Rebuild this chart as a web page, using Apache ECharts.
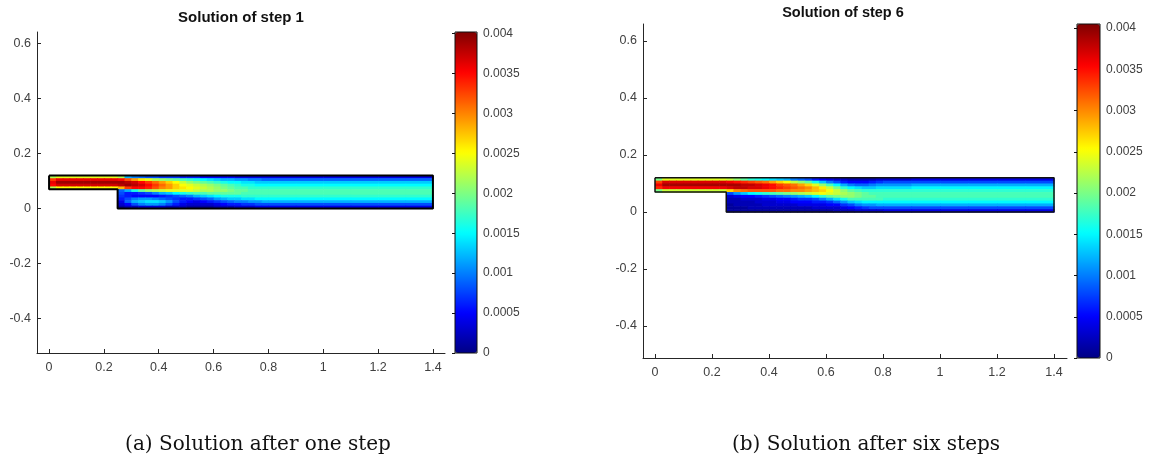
<!DOCTYPE html>
<html><head><meta charset="utf-8">
<script src="https://cdn.jsdelivr.net/npm/echarts@6/dist/echarts.min.js"></script>
<style>html,body{margin:0;padding:0;background:#fff}#c{width:1151px;height:458px}</style>
</head><body><div id="c"></div>
<script>
// ---- geometry / grid of the solution field ----
const xEdges = [0, 0.025, 0.05, 0.075, 0.1, 0.125, 0.15, 0.175, 0.2, 0.225, 0.25, 0.275, 0.3, 0.325, 0.35, 0.375, 0.4, 0.425, 0.45, 0.475, 0.5, 0.525, 0.55, 0.575, 0.6, 0.625, 0.65, 0.675, 0.7, 0.725, 0.75, 0.775, 0.8, 0.9, 1.0, 1.1, 1.2, 1.3, 1.4];
const yEdges = [0.12, 0.11, 0.10, 0.09, 0.08, 0.07, 0.06, 0.05, 0.04, 0.03, 0.02, 0.01, 0];
const outlineX = [0, 1.4, 1.4, 0.25, 0.25, 0, 0];
const outlineY = [0.12, 0.12, 0, 0, 0.07, 0.07, 0.12];
const xTicks = [0, 0.2, 0.4, 0.6, 0.8, 1, 1.2, 1.4];
const yTicks = [-0.4, -0.2, 0, 0.2, 0.4, 0.6];
const colorTicks = [0, 0.0005, 0.001, 0.0015, 0.002, 0.0025, 0.003, 0.0035, 0.004];
const colorLimits = [[0, 0.00402], [0, 0.00405]];
const titles = ['Solution of step 1', 'Solution of step 6'];
const captions = ['(a) Solution after one step', '(b) Solution after six steps'];
const N = null;

// ---- step 1 field (rows top y=0.12 -> bottom y=0) ----
const step1Rows = [
 [.0022,.0024,.0024,.0024,.0024,.0024,.0024,.0024,.0024,.0024, .0022, .0012,.0010,.0009,.0008,.0008,.0007,.0007,.0007,.0006,.0006,.0006,.0005,.0005,.0005,.0005,.0005,.0004,.0004,.0004,.0004,.0004, .0004,.0004,.0004,.0004,.0004,.0004],
 [.0033,.0036,.0036,.0036,.0036,.0036,.0036,.0036,.0036,.0036, .0035, .0032,.0029,.0026,.0024,.0022,.0021,.0020,.0019,.0018,.0017,.0016,.0015,.0014,.0013,.0012,.0012,.0011,.0011,.0010,.0010,.0009, .0009,.0009,.0009,.0009,.0009,.0009],
 [.0036,.0039,.0039,.0039,.0039,.0039,.0039,.0039,.0039,.0039, .0039, .0038,.0037,.0035,.0033,.0031,.0029,.0027,.0025,.0023,.0021,.0020,.0019,.0018,.0017,.0016,.0015,.0015,.0014,.0014,.0013,.0013, .0013,.0013,.0013,.0013,.0013,.0013],
 [.0035,.0037,.0037,.0037,.0037,.0037,.0037,.0037,.0037,.0037, .0038, .0039,.0038,.0037,.0035,.0033,.0031,.0029,.0027,.0025,.0024,.0023,.0022,.0021,.0020,.0019,.0018,.0017,.0016,.0016,.0015,.0015, .0015,.0015,.0015,.0015,.0015,.0015],
 [.0022,.0025,.0025,.0025,.0025,.0025,.0025,.0025,.0025,.0025, .0028, .0033,.0035,.0035,.0034,.0032,.0030,.0029,.0027,.0026,.0025,.0024,.0023,.0022,.0021,.0020,.0019,.0018,.0018,.0017,.0017,.0017, .0017,.0017,.0017,.0017,.0017,.0017],
 [N,N,N,N,N,N,N,N,N,N, .0009, .0012,.0016,.0019,.0021,.0022,.0023,.0024,.0024,.0024,.0024,.0023,.0022,.0022,.0021,.0021,.0020,.0019,.0019,.0018,.0018,.0018, .0018,.0018,.0018,.0018,.0018,.0018],
 [N,N,N,N,N,N,N,N,N,N, .0008, .0006,.0006,.0007,.0008,.0010,.0012,.0013,.0015,.0016,.0017,.0018,.0018,.0019,.0019,.0019,.0019,.0019,.0018,.0018,.0018,.0018, .0018,.0018,.0018,.0018,.0018,.0018],
 [N,N,N,N,N,N,N,N,N,N, .0007, .0006,.0005,.0005,.0005,.0005,.0006,.0007,.0008,.0009,.0010,.0012,.0013,.0014,.0015,.0016,.0016,.0016,.0017,.0017,.0017,.0017, .0017,.0017,.0017,.0017,.0017,.0017],
 [N,N,N,N,N,N,N,N,N,N, .0006, .0008,.0010,.0011,.0011,.0010,.0009,.0008,.0007,.0006,.0006,.0007,.0008,.0009,.0011,.0012,.0013,.0013,.0014,.0014,.0015,.0015, .0015,.0015,.0015,.0015,.0015,.0015],
 [N,N,N,N,N,N,N,N,N,N, .0004, .0009,.0012,.0013,.0014,.0014,.0013,.0011,.0008,.0006,.0005,.0004,.0005,.0006,.0007,.0008,.0009,.0010,.0010,.0011,.0011,.0012, .0012,.0012,.0012,.0012,.0012,.0012],
 [N,N,N,N,N,N,N,N,N,N, .0003, .0005,.0008,.0010,.0011,.0011,.0010,.0008,.0006,.0004,.0003,.0003,.0003,.0003,.0004,.0005,.0006,.0006,.0007,.0007,.0008,.0008, .0008,.0008,.0008,.0008,.0008,.0008],
 [N,N,N,N,N,N,N,N,N,N, .0001, .0002,.0002,.0003,.0003,.0003,.0003,.0002,.0002,.0002,.0001,.0001,.0001,.0001,.0002,.0002,.0002,.0003,.0003,.0003,.0004,.0004, .0004,.0004,.0004,.0004,.0004,.0004]
];

// ---- step 6 field ----
const step6Rows = [
 [.0020,.0024,.0024,.0024,.0024,.0024,.0024,.0024,.0024,.0024, .0023,.0021,.0019,.0017,.0016,.0015,.0014,.0013,.0012,.0010,.0009,.0008,.0006,.0005,.0004,.0003,.0003,.0002,.0002,.0002,.0002,.0003,.0003, .0004,.0004,.0004,.0004,.0004],
 [.0033,.0037,.0037,.0037,.0037,.0037,.0037,.0037,.0037,.0037, .0036,.0035,.0034,.0033,.0032,.0031,.0029,.0027,.0025,.0023,.0021,.0019,.0016,.0013,.0010,.0008,.0006,.0005,.0005,.0005,.0006,.0007,.0008, .0008,.0008,.0008,.0008,.0008],
 [.0036,.0039,.0039,.0039,.0039,.0039,.0039,.0039,.0039,.0039, .0039,.0039,.0038,.0038,.0037,.0036,.0035,.0033,.0032,.0031,.0029,.0027,.0024,.0021,.0018,.0015,.0012,.0010,.0009,.0009,.0010,.0011,.0011, .0012,.0012,.0012,.0012,.0012],
 [.0034,.0036,.0036,.0036,.0036,.0036,.0036,.0036,.0036,.0036, .0037,.0038,.0038,.0037,.0037,.0036,.0035,.0034,.0033,.0032,.0031,.0030,.0028,.0026,.0023,.0020,.0017,.0015,.0014,.0013,.0013,.0014,.0014, .0015,.0015,.0015,.0015,.0015],
 [.0020,.0023,.0023,.0023,.0023,.0023,.0023,.0023,.0023,.0023, .0027,.0030,.0031,.0032,.0032,.0032,.0032,.0031,.0031,.0030,.0030,.0029,.0028,.0027,.0025,.0023,.0021,.0019,.0018,.0017,.0017,.0017,.0017, .0017,.0017,.0017,.0017,.0017],
 [N,N,N,N,N,N,N,N,N,N, .0008,.0011,.0013,.0015,.0016,.0017,.0018,.0019,.0020,.0021,.0022,.0023,.0024,.0025,.0024,.0023,.0022,.0021,.0020,.0019,.0018,.0018,.0018, .0018,.0018,.0018,.0018,.0018],
 [N,N,N,N,N,N,N,N,N,N, .0003,.0004,.0005,.0005,.0006,.0007,.0008,.0009,.0010,.0011,.0012,.0013,.0015,.0017,.0019,.0020,.0021,.0021,.0020,.0019,.0019,.0018,.0018, .0018,.0018,.0018,.0018,.0018],
 [N,N,N,N,N,N,N,N,N,N, .0002,.0002,.0003,.0003,.0003,.0004,.0004,.0005,.0005,.0006,.0007,.0007,.0008,.0010,.0012,.0014,.0016,.0018,.0018,.0018,.0018,.0018,.0017, .0017,.0017,.0017,.0017,.0017],
 [N,N,N,N,N,N,N,N,N,N, .0002,.0002,.0002,.0002,.0003,.0003,.0003,.0004,.0004,.0005,.0005,.0005,.0006,.0006,.0007,.0009,.0011,.0013,.0014,.0015,.0015,.0015,.0015, .0015,.0015,.0015,.0015,.0015],
 [N,N,N,N,N,N,N,N,N,N, .0001,.0002,.0002,.0002,.0002,.0003,.0003,.0003,.0003,.0003,.0004,.0004,.0004,.0004,.0005,.0005,.0007,.0008,.0010,.0011,.0011,.0012,.0012, .0012,.0012,.0012,.0012,.0012],
 [N,N,N,N,N,N,N,N,N,N, .0001,.0001,.0001,.0002,.0002,.0002,.0002,.0002,.0002,.0002,.0002,.0002,.0003,.0003,.0003,.0003,.0004,.0005,.0006,.0007,.0008,.0008,.0008, .0008,.0008,.0008,.0008,.0008],
 [N,N,N,N,N,N,N,N,N,N, .0001,.0001,.0001,.0001,.0001,.0001,.0001,.0001,.0001,.0001,.0001,.0001,.0001,.0001,.0001,.0002,.0002,.0002,.0003,.0003,.0003,.0003,.0004, .0004,.0004,.0004,.0004,.0004]
];

// ---- build library inputs ----
function cells(rows) {
  const out = [];
  rows.forEach((row, i) => row.forEach((v, j) => {
    if (v != null) out.push([xEdges[j], xEdges[j + 1], yEdges[i + 1], yEdges[i], v]);
  }));
  return out;
}
const outline = outlineX.map((x, i) => [x, outlineY[i]]);
const jet = ['#000084', '#0000ff', '#0080ff', '#00ffff', '#80ff80', '#ffff00', '#ff8000', '#ff0000', '#800000'];
const FONT = "'Liberation Sans', Arial, Helvetica, sans-serif";
const AX = '#262626', LBL = '#404040';

function renderCell(params, api) {
  const a = api.coord([api.value(0), api.value(3)]);
  const b = api.coord([api.value(1), api.value(2)]);
  return { type: 'rect', shape: { x: a[0], y: a[1], width: b[0] - a[0] + 0.6, height: b[1] - a[1] + 0.6 },
           style: { fill: api.visual('color') } };
}

function mainX(grid, min, max) {
  return { gridIndex: grid, type: 'value', min: min, max: max,
    axisLine: { show: true, onZero: false, lineStyle: { color: AX, width: 1 } },
    axisTick: { show: true, inside: true, length: 4, customValues: xTicks, lineStyle: { color: AX } },
    axisLabel: { customValues: xTicks, color: LBL, fontSize: 12.5, fontFamily: FONT, margin: 8 },
    splitLine: { show: false } };
}
function mainY(grid, min, max) {
  return { gridIndex: grid, type: 'value', min: min, max: max,
    axisLine: { show: true, onZero: false, lineStyle: { color: AX, width: 1 } },
    axisTick: { show: true, inside: true, length: 4, customValues: yTicks, lineStyle: { color: AX } },
    axisLabel: { customValues: yTicks, color: LBL, fontSize: 12.5, fontFamily: FONT, margin: 6 },
    splitLine: { show: false } };
}
function barX(grid) { return { gridIndex: grid, type: 'value', show: false, min: 0, max: 1 }; }
function barY(grid, lim) {
  return { gridIndex: grid, type: 'value', position: 'right', min: lim[0], max: lim[1],
    axisLine: { show: false },
    axisTick: { show: true, inside: true, length: 3, customValues: colorTicks, lineStyle: { color: '#111' } },
    axisLabel: { customValues: colorTicks, color: LBL, fontSize: 12, fontFamily: FONT, margin: 6 },
    splitLine: { show: false } };
}
function vmap(series, lim, left, top, w, h) {
  return { type: 'continuous', seriesIndex: series, dimension: 4, min: lim[0], max: lim[1],
    inRange: { color: jet }, calculable: false, left: left, top: top, itemWidth: w, itemHeight: h,
    padding: 0, text: null, hoverLink: false };
}

const option = {
  animation: false,
  backgroundColor: '#fff',
  title: [
    { text: titles[0], left: 241, top: 10, textAlign: 'center', padding: 0,
      textStyle: { fontFamily: FONT, fontSize: 15, fontWeight: 'bold', color: '#111' } },
    { text: titles[1], left: 843, top: 5, textAlign: 'center', padding: 0,
      textStyle: { fontFamily: FONT, fontSize: 14.5, fontWeight: 'bold', color: '#111' } },
    { text: captions[0], left: 258, top: 435, textAlign: 'center', padding: 0,
      textStyle: { fontFamily: "'DejaVu Serif', serif", fontSize: 20, fontWeight: 'normal', color: '#111' } },
    { text: captions[1], left: 866, top: 435, textAlign: 'center', padding: 0,
      textStyle: { fontFamily: "'DejaVu Serif', serif", fontSize: 20, fontWeight: 'normal', color: '#111' } }
  ],
  grid: [
    { left: 37, top: 32, width: 408, height: 321 },
    { left: 643, top: 24, width: 424, height: 334 },
    { left: 455, top: 32, width: 22, height: 321, show: true, borderColor: '#111', borderWidth: 1, backgroundColor: 'transparent', z: 10 },
    { left: 1077, top: 24, width: 23, height: 334, show: true, borderColor: '#111', borderWidth: 1, backgroundColor: 'transparent', z: 10 }
  ],
  xAxis: [ mainX(0, -0.044, 1.444), mainX(1, -0.0421, 1.4456), barX(2), barX(3) ],
  yAxis: [ mainY(0, -0.526, 0.642), mainY(1, -0.5123, 0.6596), barY(2, colorLimits[0]), barY(3, colorLimits[1]) ],
  visualMap: [ vmap(0, colorLimits[0], 455, 32, 22, 321), vmap(2, colorLimits[1], 1077, 24, 23, 334) ],
  series: [
    { type: 'custom', xAxisIndex: 0, yAxisIndex: 0, renderItem: renderCell, data: cells(step1Rows),
      encode: { x: [0, 1], y: [2, 3] }, z: 2, silent: true },
    { type: 'line', xAxisIndex: 0, yAxisIndex: 0, data: outline, symbol: 'none', z: 3, silent: true,
      lineStyle: { color: '#000', width: 2 } },
    { type: 'custom', xAxisIndex: 1, yAxisIndex: 1, renderItem: renderCell, data: cells(step6Rows),
      encode: { x: [0, 1], y: [2, 3] }, z: 2, silent: true },
    { type: 'line', xAxisIndex: 1, yAxisIndex: 1, data: outline, symbol: 'none', z: 3, silent: true,
      lineStyle: { color: '#111', width: 1.5 } }
  ]
};
const chart = echarts.init(document.getElementById('c'), null, { renderer: 'canvas' });
chart.setOption(option);
</script></body></html>
